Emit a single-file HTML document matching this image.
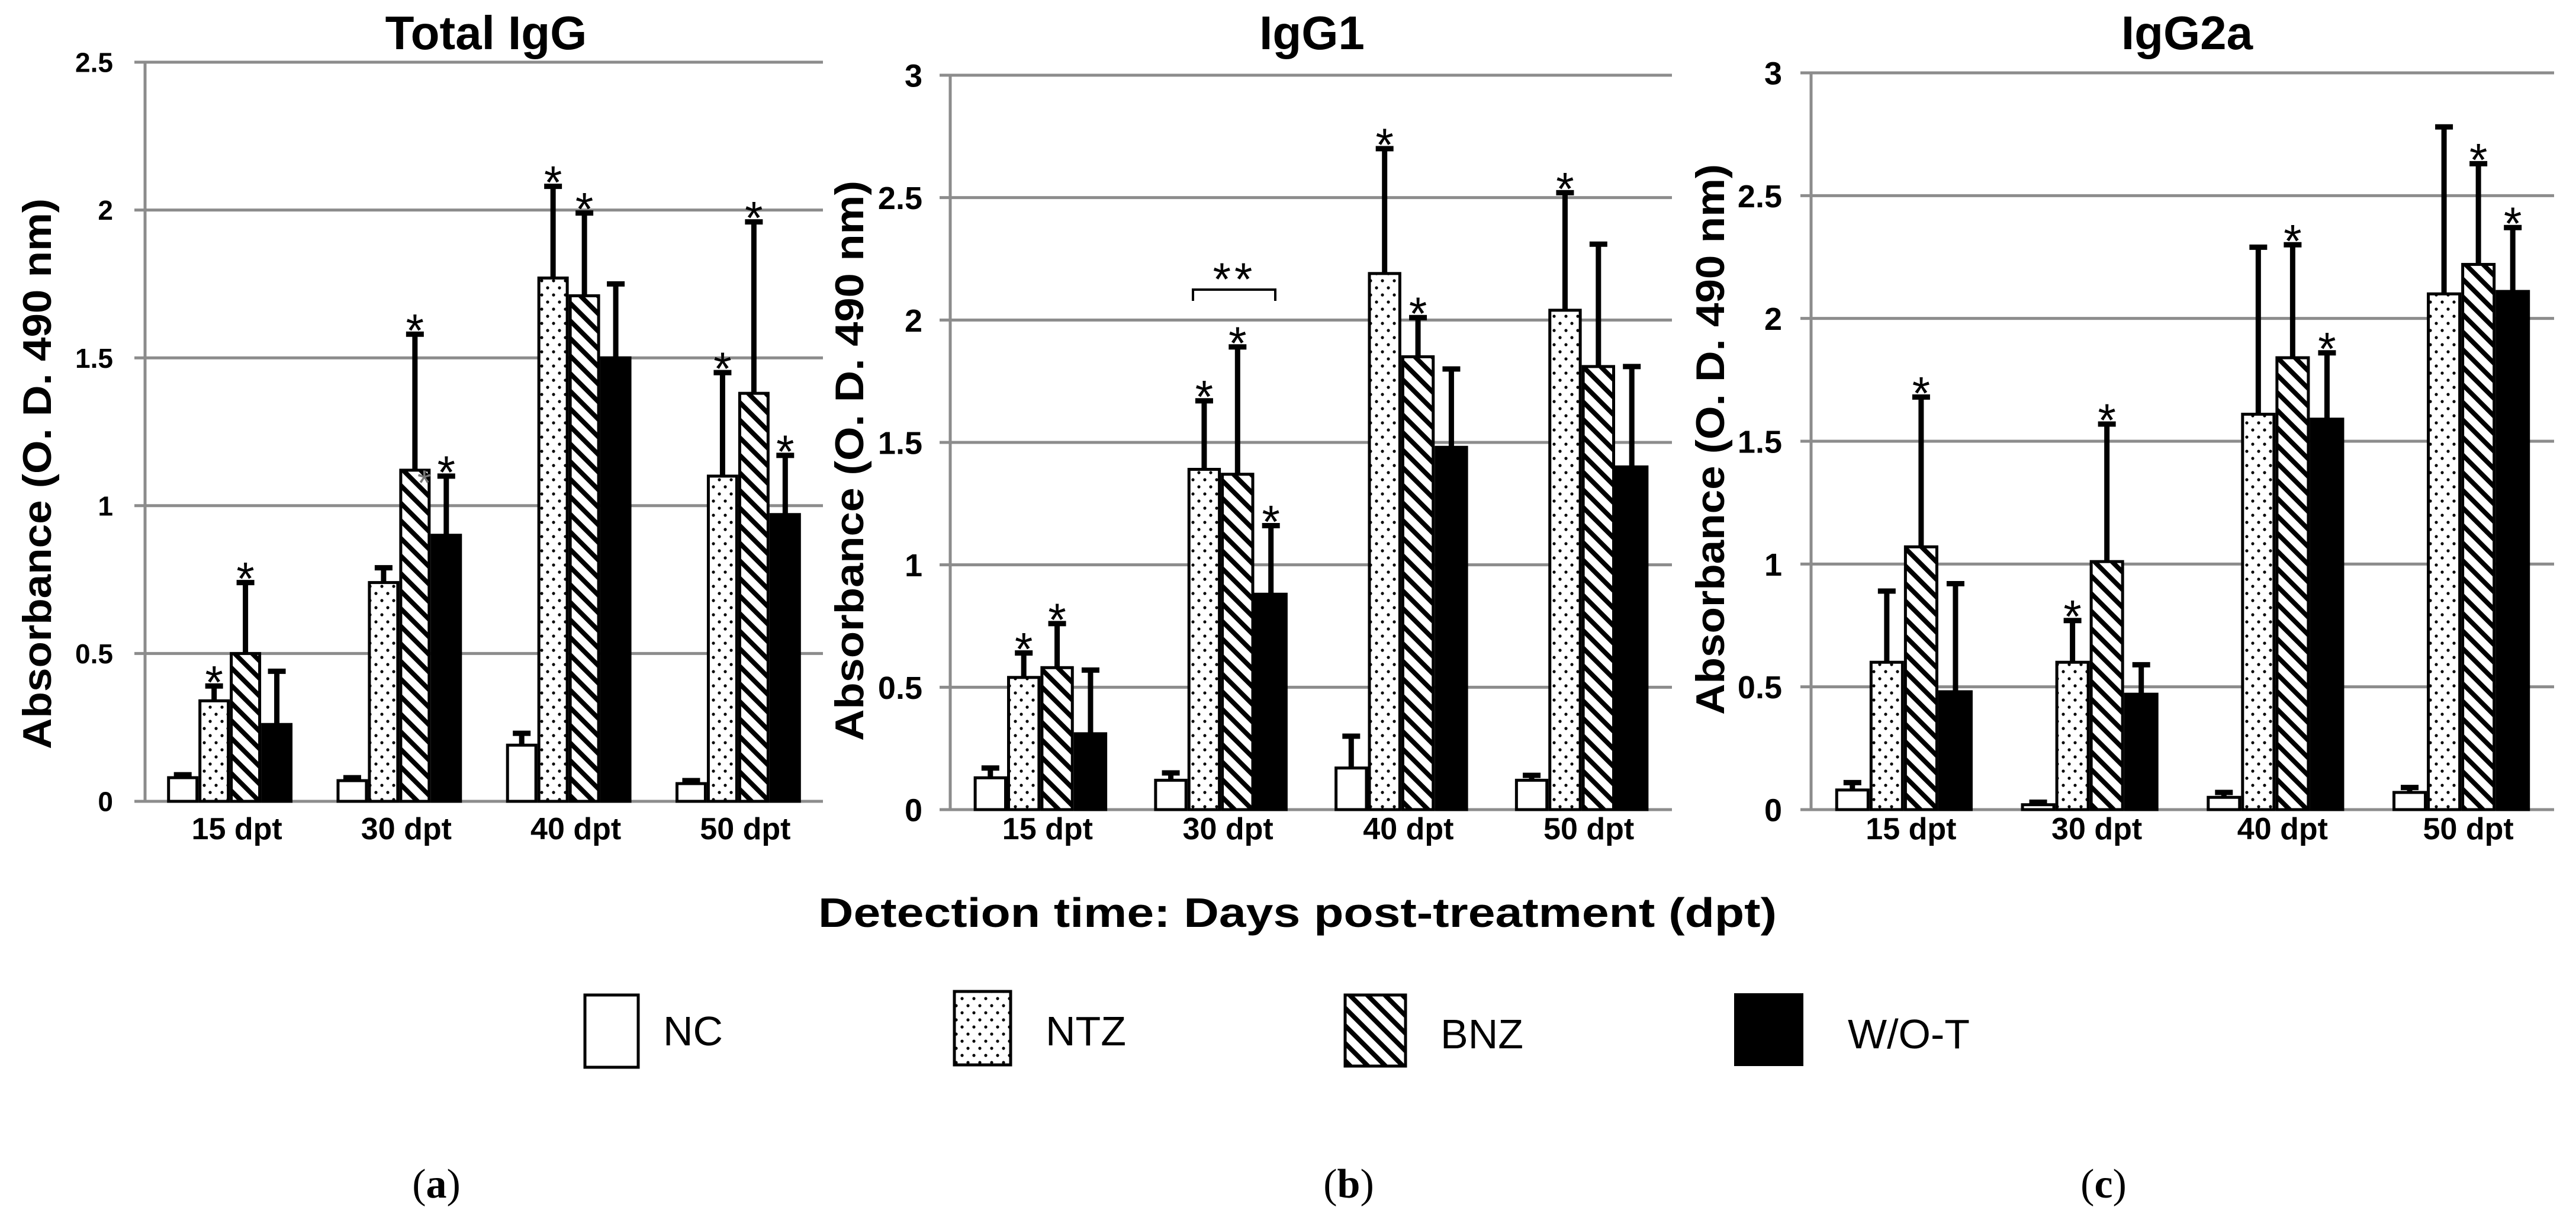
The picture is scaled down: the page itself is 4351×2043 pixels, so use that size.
<!DOCTYPE html>
<html><head><meta charset="utf-8"><style>
html,body{margin:0;padding:0;background:#fff;}
svg{display:block;}
</style></head><body>
<svg id="fig" xmlns="http://www.w3.org/2000/svg" width="4351" height="2043" viewBox="0 0 4351 2043" font-family="'Liberation Sans', Arial, sans-serif">
<defs>
<pattern id="dots" patternUnits="userSpaceOnUse" width="20" height="24">
<rect width="20" height="24" fill="#fff"/>
<circle cx="5" cy="6" r="2.6" fill="#000"/><circle cx="15" cy="18" r="2.6" fill="#000"/>
</pattern>
<pattern id="hatch" patternUnits="userSpaceOnUse" width="21" height="21" patternTransform="rotate(-45)">
<rect width="21" height="21" fill="#fff"/><rect x="0" y="0" width="8" height="21" fill="#000"/>
</pattern>
</defs>
<g id="panels"></g>
<text x="1382" y="1565" font-size="70" font-weight="bold" textLength="1619" lengthAdjust="spacingAndGlyphs">Detection time: Days post-treatment (dpt)</text>
<g>
<rect x="988" y="1680" width="90" height="122" fill="#fff" stroke="#000" stroke-width="5"/>
<text x="1120" y="1765" font-size="70">NC</text>
<rect x="1612" y="1674" width="95" height="124" fill="url(#dots)" stroke="#000" stroke-width="5"/>
<text x="1766" y="1765" font-size="70">NTZ</text>
<rect x="2272" y="1680" width="102" height="120" fill="url(#hatch)" stroke="#000" stroke-width="5"/>
<text x="2433" y="1770" font-size="70">BNZ</text>
<rect x="2929" y="1677" width="117" height="123" fill="#000"/>
<text x="3121" y="1770" font-size="70">W/O-T</text>
</g>
<g font-family="'Liberation Serif', serif" font-size="70" text-anchor="middle">
<text x="737" y="2022">(<tspan font-weight="bold">a</tspan>)</text>
<text x="2278" y="2022">(<tspan font-weight="bold">b</tspan>)</text>
<text x="3553" y="2022">(<tspan font-weight="bold">c</tspan>)</text>
</g>
</svg>
<script>
const categories = ['15 dpt','30 dpt','40 dpt','50 dpt'];
const seriesNames = ['NC','NTZ','BNZ','W/O-T'];
const ticksA = [0,0.5,1,1.5,2,2.5];
const tickLabelsA = ['0','0.5','1','1.5','2','2.5'];
const ticksBC = [0,0.5,1,1.5,2,2.5,3];
const tickLabelsBC = ['0','0.5','1','1.5','2','2.5','3'];
const totalNC = [0.08,0.07,0.19,0.06];
const totalNTZ = [0.34,0.74,1.77,1.10];
const totalBNZ = [0.50,1.12,1.71,1.38];
const totalWOT = [0.26,0.90,1.50,0.97];
const totalErrNC = [0.09,0.08,0.23,0.07];
const totalErrNTZ = [0.39,0.79,2.08,1.45];
const totalErrBNZ = [0.74,1.58,1.99,1.96];
const totalErrWOT = [0.44,1.10,1.75,1.17];
const g1NC = [0.13,0.12,0.17,0.12];
const g1NTZ = [0.54,1.39,2.19,2.04];
const g1BNZ = [0.58,1.37,1.85,1.81];
const g1WOT = [0.31,0.88,1.48,1.40];
const g1ErrNC = [0.17,0.15,0.30,0.14];
const g1ErrNTZ = [0.64,1.67,2.70,2.52];
const g1ErrBNZ = [0.76,1.89,2.01,2.31];
const g1ErrWOT = [0.57,1.16,1.80,1.81];
const g2NC = [0.08,0.02,0.05,0.07];
const g2NTZ = [0.60,0.60,1.61,2.10];
const g2BNZ = [1.07,1.01,1.84,2.22];
const g2WOT = [0.48,0.47,1.59,2.11];
const g2ErrNC = [0.11,0.03,0.07,0.09];
const g2ErrNTZ = [0.89,0.77,2.29,2.78];
const g2ErrBNZ = [1.68,1.57,2.30,2.63];
const g2ErrWOT = [0.92,0.59,1.86,2.37];
const totalStars = [[0,1],[0,2],[1,2],[1,3],[2,1],[2,2],[3,1],[3,2],[3,3]];
const g1Stars = [[0,1],[0,2],[1,1],[1,2],[1,3],[2,1],[2,2],[3,1]];
const g2Stars = [[0,2],[1,1],[1,2],[2,2],[2,3],[3,2],[3,3]];

const NS='http://www.w3.org/2000/svg';
const root=document.getElementById('panels');
function el(tag,attrs,parent){const e=document.createElementNS(NS,tag);for(const k in attrs)e.setAttribute(k,attrs[k]);(parent||root).appendChild(e);return e;}
const fills=['#fff','url(#dots)','url(#hatch)','#000'];
const keys=['nc','ntz','bnz','wot'];

const panels=[
 {id:'a',title:'Total IgG',x0:245,x1:1390,yTop:105,yBot:1353,max:2.5,ticks:ticksA,tl:tickLabelsA,tfs:46,tx:191,
  means:[totalNC,totalNTZ,totalBNZ,totalWOT],errs:[totalErrNC,totalErrNTZ,totalErrBNZ,totalErrWOT],stars:totalStars,
  ylab:'Absorbance (O. D. 490 nm)',ylx:62,yly:800,yll:930,tcx:821},
 {id:'b',title:'IgG1',x0:1605,x1:2824,yTop:127,yBot:1367,max:3,ticks:ticksBC,tl:tickLabelsBC,tfs:54,tx:1558,
  means:[g1NC,g1NTZ,g1BNZ,g1WOT],errs:[g1ErrNC,g1ErrNTZ,g1ErrBNZ,g1ErrWOT],stars:g1Stars,
  ylab:'Absorbance  (O. D. 490 nm)',ylx:1434,yly:778,yll:946,tcx:2216},
 {id:'c',title:'IgG2a',x0:3059,x1:4314,yTop:123,yBot:1367,max:3,ticks:ticksBC,tl:tickLabelsBC,tfs:54,tx:3010,
  means:[g2NC,g2NTZ,g2BNZ,g2WOT],errs:[g2ErrNC,g2ErrNTZ,g2ErrBNZ,g2ErrWOT],stars:g2Stars,
  ylab:'Absorbance (O. D. 490 nm)',ylx:2888,yly:742,yll:930,tcx:3694}
];

panels.forEach(p=>{
 const g=el('g',{});
 
 
 const y=v=>p.yBot-(v/p.max)*(p.yBot-p.yTop);
 const cw=(p.x1-p.x0)/categories.length;
 const bw=cw*0.185;
 const bx=(ci,si)=>p.x0+cw*(ci+0.5)+(si-2)*bw;
 p.ticks.forEach((t,i)=>{
  const ln=el('line',{x1:p.x0-18,x2:p.x1,y1:y(t),y2:y(t),stroke:'#8c8c8c','stroke-width':5},g);
  
  
  const tx=el('text',{x:p.tx,y:y(t)+p.tfs*0.36,'font-size':p.tfs,'font-weight':'bold','text-anchor':'end'},g);
  tx.textContent=p.tl[i];
  
  
 });
 const ax=el('line',{x1:p.x0,x2:p.x0,y1:p.yTop,y2:p.yBot,stroke:'#8c8c8c','stroke-width':5},g);
 
 
 categories.forEach((c,ci)=>{
  const t=el('text',{x:p.x0+cw*(ci+0.5)+12,y:1417,'font-size':52,'font-weight':'bold','text-anchor':'middle'},g);
  t.textContent=c;
  
  
  for(let si=0;si<4;si++){
   const v=p.means[si][ci], e=p.errs[si][ci], cx=bx(ci,si)+bw/2;
   const eb=el('line',{x1:cx,x2:cx,y1:y(v),y2:y(e),stroke:'#000','stroke-width':9},g);
   
   
   const cap=el('line',{x1:cx-15,x2:cx+15,y1:y(e),y2:y(e),stroke:'#000','stroke-width':9},g);
   
   
   const r=el('rect',{x:bx(ci,si)+2.5,y:y(v),width:bw-5,height:y(0)-y(v),fill:fills[si],stroke:'#000','stroke-width':5},g);
   
   
  }
 });
 p.stars.forEach(([ci,si])=>{
  const cx=bx(ci,si)+bw/2;
  const s=el('text',{x:cx,y:y(p.errs[si][ci])+20,'font-size':78,'text-anchor':'middle'},g);
  s.textContent='*';
  
  
 });
 const tt=el('text',{x:p.tcx,y:83,'font-size':80,'font-weight':'bold','text-anchor':'middle'},g);
 tt.textContent=p.title;
 
 
 const yl=el('text',{x:0,y:0,'font-size':68,'font-weight':'bold','text-anchor':'middle',textLength:p.yll,lengthAdjust:'spacingAndGlyphs',transform:'translate('+(p.ylx+24)+','+p.yly+') rotate(-90)'},g);
 yl.textContent=p.ylab;
 
 
 if(p.id==='a'){
  const cx=bx(1,2)+bw*0.8;
  const gs=el('text',{x:cx,y:y(p.means[2][1])+42,'font-size':60,'text-anchor':'middle',fill:'#777'},g);
  gs.textContent='*';
  
  
 }
 if(p.id==='b'){
  const br=el('path',{d:'M2015 508 L2015 489 L2154 489 L2154 508',fill:'none',stroke:'#000','stroke-width':4},g);
  
  
  const bs=el('text',{x:2085,y:498,'font-size':78,'text-anchor':'middle','letter-spacing':'6'},g);
  bs.textContent='**';
  
  
 }
});
</script>
</body></html>
